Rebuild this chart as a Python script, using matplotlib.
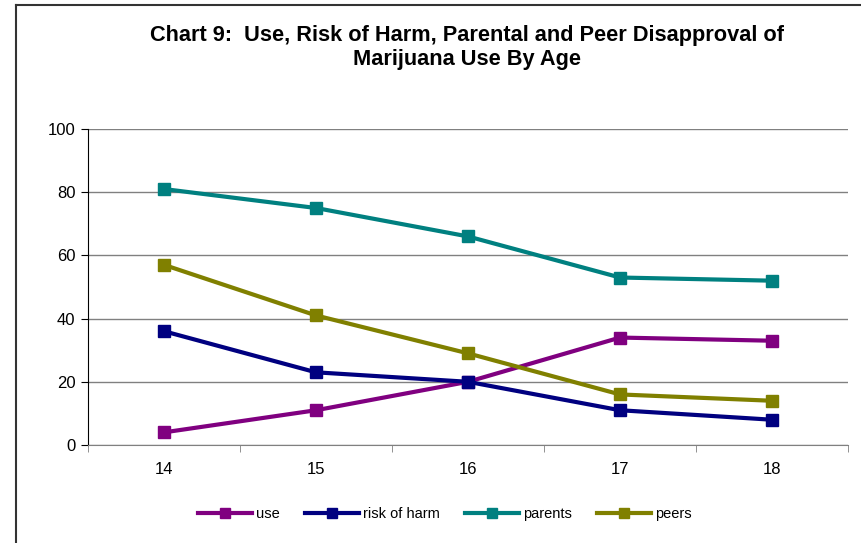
import matplotlib.pyplot as plt
from matplotlib.lines import Line2D
import numpy as np

plt.rcParams['font.family'] = ['Liberation Sans', 'DejaVu Sans']

ages = ["14", "15", "16", "17", "18"]
use = [4, 11, 20, 34, 33]
risk_of_harm = [36, 23, 20, 11, 8]
parents = [81, 75, 66, 53, 52]
peers = [57, 41, 29, 16, 14]

series = [
    ("use", use, "#800080"),
    ("risk of harm", risk_of_harm, "#000080"),
    ("parents", parents, "#008080"),
    ("peers", peers, "#808000"),
]

fig = plt.figure(figsize=(8.61, 5.43), dpi=100)
ax = fig.add_axes([88/861, 98/543, 760/861, 316/543])

# chart area border (left and top only visible)
fig.add_artist(Line2D([16/861, 16/861], [0, 1 - 5/543], transform=fig.transFigure,
                      color='#333333', lw=1.5))
fig.add_artist(Line2D([16/861, 1], [1 - 5/543, 1 - 5/543], transform=fig.transFigure,
                      color='#333333', lw=1.5))

x = np.arange(len(ages))
for name, vals, col in series:
    ax.plot(x, vals, color=col, lw=3, marker='s', markersize=9, label=name, zorder=3)

ax.set_xlim(-0.5, len(ages) - 0.5)
ax.set_ylim(0, 100)
ax.set_yticks(range(0, 101, 20))
ax.set_xticks(x)
ax.set_xticklabels(ages)
ax.set_xticks(np.arange(-0.5, len(ages), 1), minor=True)
ax.tick_params(axis='x', which='major', length=0, pad=12, labelsize=12)
ax.tick_params(axis='x', which='minor', length=5, color='#808080', direction='out')
ax.tick_params(axis='y', length=5, labelsize=12, pad=4)

ax.grid(axis='y', color='#808080', lw=1)
ax.set_axisbelow(True)
for s in ['top', 'right']:
    ax.spines[s].set_visible(False)
ax.spines['bottom'].set_color('#808080')
ax.spines['left'].set_color('black')

fig.text(0.542, 1 - 47.5/543, "Chart 9:  Use, Risk of Harm, Parental and Peer Disapproval of\nMarijuana Use By Age",
         ha='center', va='center', fontsize=15.7, fontweight='bold', linespacing=1.15)

fig.legend(loc='center', bbox_to_anchor=(445/861, 1 - 514/543), ncol=4, frameon=False,
           fontsize=10.5, handlelength=3.7, columnspacing=1.7, handletextpad=0.3,
           markerscale=0.75)

fig.savefig("out.png", dpi=100)
